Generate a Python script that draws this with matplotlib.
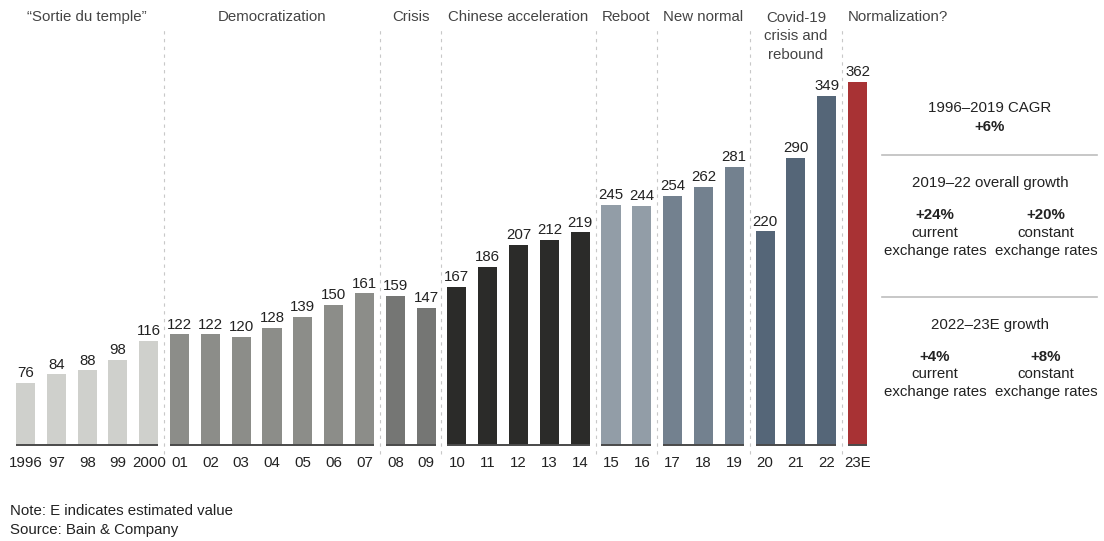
import matplotlib.pyplot as plt
from matplotlib.lines import Line2D

plt.rcParams['font.family'] = ['Liberation Sans', 'DejaVu Sans']
FS = 10.8

# --- Data ---
years = ["1996", "97", "98", "99", "2000", "01", "02", "03", "04", "05", "06", "07",
         "08", "09", "10", "11", "12", "13", "14", "15", "16", "17", "18", "19",
         "20", "21", "22", "23E"]
values = [76, 84, 88, 98, 116, 122, 122, 120, 128, 139, 150, 161,
          159, 147, 167, 186, 207, 212, 219, 245, 244, 254, 262, 281,
          220, 290, 349, 362]
phases = ["\u201cSortie du temple\u201d", "Democratization", "Crisis", "Chinese acceleration",
          "Reboot", "New normal", "Covid-19\ncrisis and\nrebound", "Normalization?"]
phase_sizes = [5, 7, 2, 5, 2, 3, 3, 1]
phase_colors = ["#cfd0cc", "#8c8d89", "#757674", "#2b2b29",
                "#929da7", "#73818f", "#556678", "#a83234"]

# --- Figure ---
W, H = 1104, 541
fig = plt.figure(figsize=(W / 100, H / 100), dpi=100)
ax = fig.add_axes([10 / W, (H - 445) / H, 862 / W, 425 / H])

px_unit = 30.815
ax.set_xlim(-(25.5 - 10) / px_unit, 27 + (872 - 857.5) / px_unit)
ax.set_ylim(17, 17 + 425 / 1.0524)

starts = []
s = 0
for n in phase_sizes:
    starts.append(s)
    s += n

colors = []
for c, n in zip(phase_colors, phase_sizes):
    colors += [c] * n

x = list(range(len(years)))
bw = 0.62
ax.bar(x, values, width=bw, color=colors, zorder=2)

for xi, v in zip(x, values):
    ax.annotate(str(v), (xi, v), xytext=(0, 2), textcoords="offset points",
                ha="center", va="bottom", fontsize=FS, color="#222222")

xt = ax.get_xaxis_transform()
top_y = (445 - 17) / 425
multi_y = (445 - 11) / 425
for i, (name, st, n) in enumerate(zip(phases, starts, phase_sizes)):
    end = st + n - 1
    # baseline segment under each phase
    ax.plot([st - bw / 2, end + bw / 2], [17, 17], color="#4a4a4a", lw=1.4,
            solid_capstyle="butt", clip_on=False, zorder=3)
    if i == len(phases) - 1:
        ax.text(st - bw / 2, top_y, name, transform=xt, ha="left", va="center",
                fontsize=FS, color="#444444")
    elif "\n" in name:
        ax.text((st + end) / 2, multi_y, name, transform=xt, ha="center", va="top",
                fontsize=FS, color="#444444", linespacing=1.4)
    else:
        ax.text((st + end) / 2, top_y, name, transform=xt, ha="center", va="center",
                fontsize=FS, color="#444444")
    if i > 0:
        ax.axvline(st - 0.5, ymin=-0.02, ymax=0.976, color="#c8c8c8", lw=0.8,
                   linestyle=(0, (3, 4)), clip_on=False, zorder=1)

ax.set_xticks(x)
ax.set_xticklabels(years, fontsize=FS, color="#222222")
ax.tick_params(axis="x", length=0, pad=8)
ax.set_yticks([])
for sp in ax.spines.values():
    sp.set_visible(False)

# --- Growth panel on the right ---
def ftext(px, py, s, **kw):
    fig.text(px / W, 1 - py / H, s, ha="center", va="center", fontsize=FS,
             color="#222222", **kw)

ftext(990, 108, "1996\u20132019 CAGR")
ftext(990, 127, "+6%", fontweight="bold")
fig.add_artist(Line2D([882 / W, 1097 / W], [1 - 155 / H, 1 - 155 / H],
                      color="#bdbdbd", lw=1.2))
ftext(990, 183, "2019\u201322 overall growth")
ftext(935, 215, "+24%", fontweight="bold")
ftext(935, 233, "current")
ftext(935, 251, "exchange rates")
ftext(1046, 215, "+20%", fontweight="bold")
ftext(1046, 233, "constant")
ftext(1046, 251, "exchange rates")
fig.add_artist(Line2D([882 / W, 1097 / W], [1 - 297 / H, 1 - 297 / H],
                      color="#bdbdbd", lw=1.2))
ftext(990, 325, "2022\u201323E growth")
ftext(935, 357, "+4%", fontweight="bold")
ftext(935, 374, "current")
ftext(935, 392, "exchange rates")
ftext(1046, 357, "+8%", fontweight="bold")
ftext(1046, 374, "constant")
ftext(1046, 392, "exchange rates")

# --- Footnotes ---
fig.text(10 / W, 1 - 511 / H, "Note: E indicates estimated value", ha="left", va="center",
         fontsize=FS, color="#222222")
fig.text(10 / W, 1 - 530 / H, "Source: Bain & Company", ha="left", va="center",
         fontsize=FS, color="#222222")

fig.savefig("out.png", dpi=100)
